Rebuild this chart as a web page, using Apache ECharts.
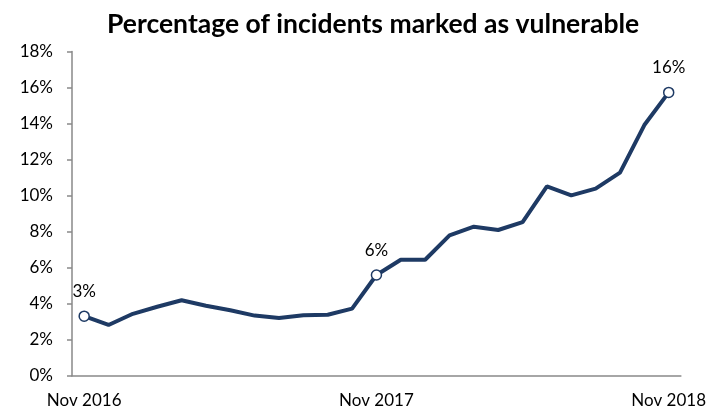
<!DOCTYPE html>
<html>
<head>
<meta charset="utf-8">
<script src="https://cdn.jsdelivr.net/npm/echarts@6/dist/echarts.min.js"></script>
<style>
  html, body { margin: 0; padding: 0; background: #ffffff; }
  #chart { width: 709px; height: 415px; }
</style>
</head>
<body>
<div id="chart"></div>
<script>
// Monthly share of incidents flagged as vulnerable, Nov 2016 – Nov 2018
const months = [
  'Nov 2016', 'Dec 2016', 'Jan 2017', 'Feb 2017', 'Mar 2017', 'Apr 2017',
  'May 2017', 'Jun 2017', 'Jul 2017', 'Aug 2017', 'Sep 2017', 'Oct 2017',
  'Nov 2017', 'Dec 2017', 'Jan 2018', 'Feb 2018', 'Mar 2018', 'Apr 2018',
  'May 2018', 'Jun 2018', 'Jul 2018', 'Aug 2018', 'Sep 2018', 'Oct 2018',
  'Nov 2018'
];
const vulnerablePct = [
  3.32, 2.83, 3.45, 3.84, 4.2, 3.9, 3.65, 3.35, 3.22, 3.37, 3.4, 3.74,
  5.6, 6.45, 6.45, 7.8, 8.28, 8.1, 8.54, 10.52, 10.02, 10.39, 11.28, 13.92,
  15.73
];
// Points that carry a marker and a value label
const labelledIdx = [0, 12, 24];
const yTicks = [0, 2, 4, 6, 8, 10, 12, 14, 16, 18];

const navy = '#1e3a64';
const font = 'Lato, "Open Sans", sans-serif';

const seriesData = vulnerablePct.map((v, i) => {
  const marked = labelledIdx.includes(i);
  return {
    value: v,
    symbol: marked ? 'circle' : 'none',
    symbolSize: 10,
    label: { show: marked }
  };
});

const chart = echarts.init(document.getElementById('chart'), null, { renderer: 'canvas' });
chart.setOption({
  animation: false,
  backgroundColor: '#ffffff',
  title: {
    text: 'Percentage of incidents marked as vulnerable',
    left: 102,
    top: 6,
    textStyle: { fontFamily: font, fontWeight: 'bold', fontSize: 26.5, color: '#000000' }
  },
  grid: { left: 72, right: 26, top: 51.5, bottom: 39, containLabel: false },
  xAxis: {
    type: 'category',
    data: months,
    boundaryGap: true,
    axisLine: { lineStyle: { color: '#898989', width: 1.5 } },
    axisTick: { show: false },
    axisLabel: {
      interval: 11,
      margin: 16,
      fontFamily: font,
      fontSize: 17,
      color: '#000000'
    }
  },
  yAxis: {
    type: 'value',
    min: yTicks[0],
    max: yTicks[yTicks.length - 1],
    interval: 2,
    splitLine: { show: false },
    axisLine: { show: true, lineStyle: { color: '#898989', width: 1.5 } },
    axisTick: { show: true, length: 5, lineStyle: { color: '#898989', width: 1.5 } },
    axisLabel: {
      margin: 19,
      fontFamily: font,
      fontSize: 17,
      color: '#000000',
      formatter: v => v + '%'
    }
  },
  series: [{
    type: 'line',
    data: seriesData,
    showAllSymbol: true,
    lineStyle: { color: navy, width: 4 },
    itemStyle: { color: '#ffffff', borderColor: navy, borderWidth: 1.5 },
    label: {
      position: 'top',
      distance: 9,
      fontFamily: font,
      fontSize: 17,
      lineHeight: 20,
      color: '#000000',
      formatter: p => Math.round(p.value) + '%'
    },
    z: 3
  }]
});
</script>
</body>
</html>
